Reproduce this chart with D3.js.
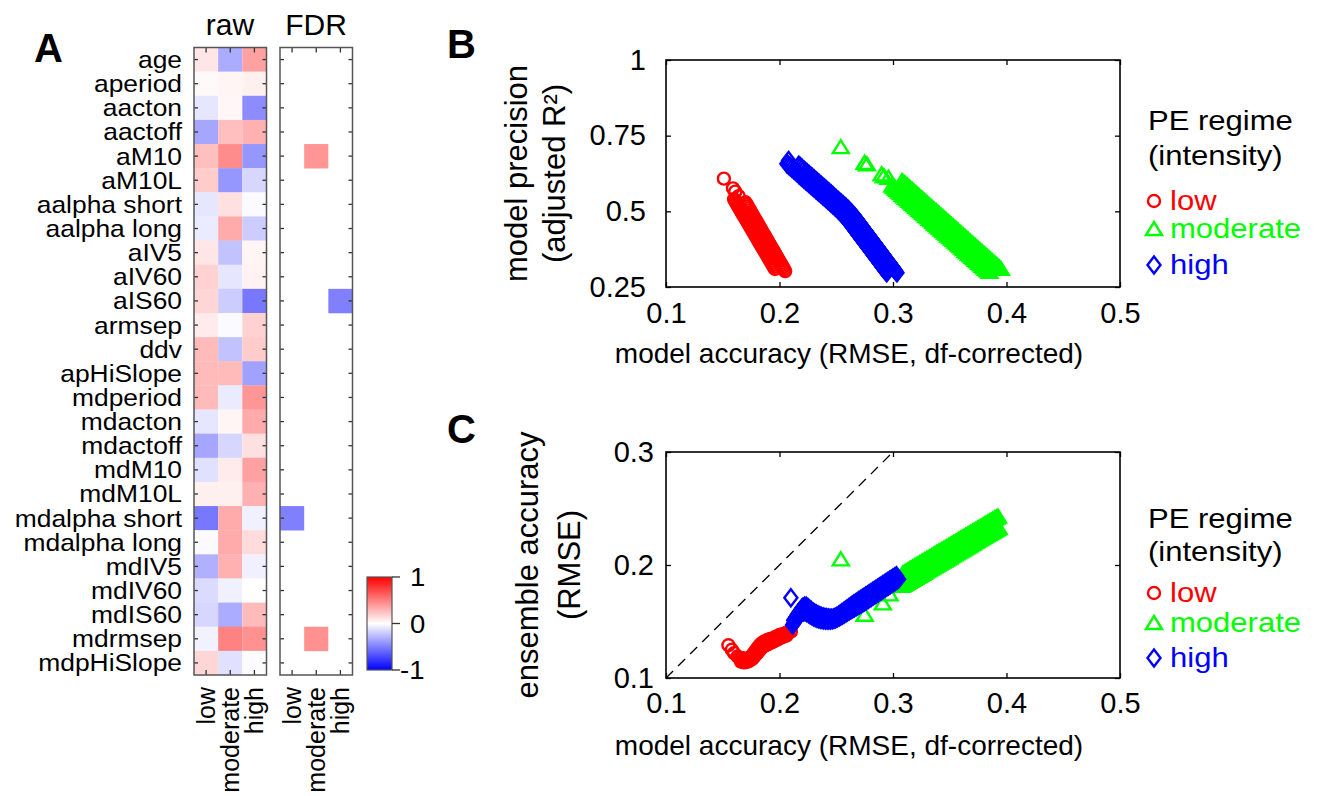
<!DOCTYPE html>
<html><head><meta charset="utf-8">
<script src="https://cdn.jsdelivr.net/npm/d3@7"></script>
<style>
body{margin:0;background:#fff}
svg{display:block}
text{font-family:"Liberation Sans",Arial,sans-serif;fill:#000}
</style>
</head><body>
<svg id="chart" width="1322" height="796"></svg>
<script>
// ---------------- data ----------------
const features = ["age","aperiod","aacton","aactoff","aM10","aM10L","aalpha short","aalpha long","aIV5","aIV60","aIS60","armsep","ddv","apHiSlope","mdperiod","mdacton","mdactoff","mdM10","mdM10L","mdalpha short","mdalpha long","mdIV5","mdIV60","mdIS60","mdrmsep","mdpHiSlope"];
const regimes = ["low","moderate","high"];
const rawLow      = [0.10,0.02,-0.10,-0.35,0.25,0.20,-0.10,-0.08,0.10,0.18,0.16,0.08,0.27,0.27,0.27,-0.10,-0.35,-0.12,0.06,-0.53,-0.02,-0.31,-0.14,-0.16,-0.05,0.16];
const rawModerate = [-0.33,0.04,0.03,0.25,0.45,-0.41,0.12,0.33,-0.24,-0.10,-0.20,-0.02,-0.24,0.27,-0.08,0.04,-0.16,0.08,0.06,0.33,0.33,0.31,-0.06,-0.33,0.49,-0.12];
const rawHigh     = [0.37,0.06,-0.45,0.31,-0.41,-0.16,-0.02,-0.20,0.04,0.05,-0.53,0.18,0.20,-0.37,0.41,0.33,0.12,0.37,0.31,-0.06,0.14,-0.06,0.00,0.27,0.43,-0.01];
const N = null;
const fdrLow      = [N,N,N,N,N,N,N,N,N,N,N,N,N,N,N,N,N,N,N,-0.50,N,N,N,N,N,N];
const fdrModerate = [N,N,N,N,0.41,N,N,N,N,N,N,N,N,N,N,N,N,N,N,N,N,N,N,N,0.43,N];
const fdrHigh     = [N,N,N,N,N,N,N,N,N,N,-0.50,N,N,N,N,N,N,N,N,N,N,N,N,N,N,N];
const colorbarTicks = [-1,0,1];

const xTicks = [0.1,0.2,0.3,0.4,0.5];
const yTicksB = [0.25,0.5,0.75,1];
const yTicksC = [0.1,0.2,0.3];
const legendLabels = ["low","moderate","high"];

// ---- panel B: [model accuracy RMSE, adjusted R2] ----
const B_low_out = [[0.151,0.608],[0.159,0.576],[0.161,0.565],[0.164,0.550]];
const B_low_1 = [[0.160,0.540],[0.161,0.5336],[0.162,0.5272],[0.163,0.5208],[0.164,0.5144],[0.165,0.508],[0.166,0.5016],[0.167,0.4952],[0.168,0.4888],[0.169,0.4824],[0.170,0.476],[0.171,0.4696],[0.172,0.4632],[0.173,0.4568],[0.174,0.4504],[0.175,0.444],[0.176,0.4376],[0.177,0.4312],[0.178,0.4248],[0.179,0.4184],[0.180,0.412],[0.181,0.4056],[0.182,0.3992],[0.183,0.3928],[0.184,0.3864],[0.185,0.380],[0.186,0.3736],[0.187,0.3672],[0.188,0.3608],[0.189,0.3544],[0.190,0.348],[0.191,0.3416],[0.192,0.3352],[0.193,0.3288],[0.194,0.3224],[0.195,0.316],[0.196,0.3096]];
const B_low_2 = [[0.170,0.530],[0.171,0.5235],[0.172,0.517],[0.173,0.5105],[0.174,0.504],[0.175,0.4975],[0.176,0.491],[0.177,0.4845],[0.178,0.478],[0.179,0.4715],[0.180,0.465],[0.181,0.4585],[0.182,0.452],[0.183,0.4455],[0.184,0.439],[0.185,0.4325],[0.186,0.426],[0.187,0.4195],[0.188,0.413],[0.189,0.4065],[0.190,0.400],[0.191,0.3935],[0.192,0.387],[0.193,0.3805],[0.194,0.374],[0.195,0.3675],[0.196,0.361],[0.197,0.3545],[0.198,0.348],[0.199,0.3415],[0.200,0.335],[0.201,0.3285],[0.202,0.322],[0.203,0.3155],[0.204,0.309],[0.205,0.3025]];

const B_mod_out = [[0.254,0.712],[0.275,0.660],[0.277,0.655],[0.290,0.622],[0.292,0.616],[0.296,0.611]];
const B_mod_1 = [[0.2995,0.585],[0.301,0.580],[0.3025,0.575],[0.304,0.570],[0.3055,0.565],[0.307,0.560],[0.3085,0.555],[0.310,0.550],[0.3115,0.545],[0.313,0.540],[0.3145,0.535],[0.316,0.530],[0.3175,0.525],[0.319,0.520],[0.3205,0.515],[0.322,0.510],[0.3235,0.505],[0.325,0.500],[0.3265,0.495],[0.328,0.490],[0.3295,0.485],[0.331,0.480],[0.3325,0.475],[0.334,0.470],[0.3355,0.465],[0.337,0.460],[0.3385,0.455],[0.340,0.450],[0.3415,0.445],[0.343,0.440],[0.3445,0.435],[0.346,0.430],[0.3475,0.425],[0.349,0.420],[0.3505,0.415],[0.352,0.410],[0.3535,0.405],[0.355,0.400],[0.3565,0.395],[0.358,0.390],[0.3595,0.385],[0.361,0.380],[0.3625,0.375],[0.364,0.370],[0.3655,0.365],[0.367,0.360],[0.3685,0.355],[0.370,0.350],[0.3715,0.345],[0.373,0.340],[0.3745,0.335],[0.376,0.330],[0.3775,0.325],[0.379,0.320],[0.3805,0.315],[0.382,0.310],[0.3835,0.305],[0.385,0.300]];
const B_mod_2 = [[0.308,0.600],[0.3095,0.595],[0.311,0.590],[0.3125,0.585],[0.314,0.580],[0.3155,0.575],[0.317,0.570],[0.3185,0.565],[0.320,0.560],[0.3215,0.555],[0.323,0.550],[0.3245,0.545],[0.326,0.540],[0.3275,0.535],[0.329,0.530],[0.3305,0.525],[0.332,0.520],[0.3335,0.515],[0.335,0.510],[0.3365,0.505],[0.338,0.500],[0.3395,0.495],[0.341,0.490],[0.3425,0.485],[0.344,0.480],[0.3455,0.475],[0.347,0.470],[0.3485,0.465],[0.350,0.460],[0.3515,0.455],[0.353,0.450],[0.3545,0.445],[0.356,0.440],[0.3575,0.435],[0.359,0.430],[0.3605,0.425],[0.362,0.420],[0.3635,0.415],[0.365,0.410],[0.3665,0.405],[0.368,0.400],[0.3695,0.395],[0.371,0.390],[0.3725,0.385],[0.374,0.380],[0.3755,0.375],[0.377,0.370],[0.3785,0.365],[0.380,0.360],[0.3815,0.355],[0.383,0.350],[0.3845,0.345],[0.386,0.340],[0.3875,0.335],[0.389,0.330],[0.3905,0.325],[0.392,0.320],[0.3935,0.315],[0.395,0.310]];

const B_high_out = [[0.208,0.668]];
const B_high_1 = [[0.2065,0.657],[0.208,0.652],[0.2095,0.647],[0.211,0.642],[0.2125,0.637],[0.214,0.632],[0.2155,0.627],[0.217,0.622],[0.2185,0.617],[0.220,0.612],[0.2215,0.607],[0.223,0.602],[0.2245,0.597],[0.226,0.592],[0.2275,0.587],[0.229,0.582],[0.2305,0.577],[0.232,0.572],[0.2335,0.567],[0.235,0.562],[0.2365,0.557],[0.238,0.552],[0.2395,0.547],[0.241,0.542],[0.2425,0.537],[0.244,0.532],[0.2455,0.527],[0.247,0.522],[0.2485,0.517],[0.2499,0.512],[0.2513,0.507],[0.2526,0.502],[0.2538,0.497],[0.255,0.492],[0.2562,0.487],
[0.2573,0.482],[0.2584,0.477],[0.2595,0.472],[0.2605,0.467],[0.2615,0.462],[0.2625,0.457],[0.2635,0.452],[0.2645,0.447],[0.2655,0.442],[0.2665,0.437],[0.2675,0.432],[0.2685,0.427],[0.2695,0.422],[0.2705,0.417],[0.2715,0.412],[0.2725,0.407],[0.2735,0.402],[0.2745,0.397],[0.2755,0.392],[0.2765,0.387],[0.2775,0.382],[0.2785,0.377],[0.2795,0.372],[0.2805,0.367],[0.2815,0.362],[0.2825,0.357],[0.2835,0.352],[0.2845,0.347],[0.2855,0.342],[0.2865,0.337],[0.2875,0.332],[0.2885,0.327],[0.2895,0.322],[0.2905,0.317],[0.2915,0.312],[0.2925,0.307],[0.2935,0.302],[0.2945,0.297]];
const B_high_2 = [[0.217,0.652],[0.2185,0.647],[0.220,0.642],[0.2215,0.637],[0.223,0.632],[0.2245,0.627],[0.226,0.622],[0.2275,0.617],[0.229,0.612],[0.2305,0.607],[0.232,0.602],[0.2335,0.597],[0.235,0.592],[0.2365,0.587],[0.238,0.582],[0.2395,0.577],[0.241,0.572],[0.2425,0.567],[0.244,0.562],[0.2455,0.557],[0.247,0.552],[0.2485,0.547],[0.250,0.542],[0.2515,0.537],[0.253,0.532],[0.2545,0.527],[0.256,0.522],[0.2575,0.517],[0.2589,0.512],[0.2603,0.507],[0.2616,0.502],[0.2628,0.497],[0.264,0.492],[0.2652,0.487],
[0.2663,0.482],[0.2674,0.477],[0.2685,0.472],[0.2695,0.467],[0.2705,0.462],[0.2715,0.457],[0.2725,0.452],[0.2735,0.447],[0.2745,0.442],[0.2755,0.437],[0.2765,0.432],[0.2775,0.427],[0.2785,0.422],[0.2795,0.417],[0.2805,0.412],[0.2815,0.407],[0.2825,0.402],[0.2835,0.397],[0.2845,0.392],[0.2855,0.387],[0.2865,0.382],[0.2875,0.377],[0.2885,0.372],[0.2895,0.367],[0.2905,0.362],[0.2915,0.357],[0.2925,0.352],[0.2935,0.347],[0.2945,0.342],[0.2955,0.337],[0.2965,0.332],[0.2975,0.327],[0.2985,0.322],[0.2995,0.317],[0.3005,0.312],[0.3015,0.307],[0.3025,0.302],[0.3035,0.297]];

// ---- panel C: [model accuracy RMSE, ensemble accuracy RMSE] ----
const C_low_out = [[0.155,0.129],[0.158,0.125],[0.160,0.122]];
const C_low_1 = [[0.163,0.119],[0.165,0.118],[0.167,0.1175],[0.169,0.117],[0.171,0.117],[0.173,0.1175],[0.175,0.119],[0.1765,0.121],[0.178,0.123],[0.1795,0.125],[0.181,0.127],[0.1825,0.129],[0.184,0.1305],[0.186,0.132],[0.188,0.133],[0.190,0.134],[0.192,0.1345],[0.194,0.135],[0.196,0.136],[0.198,0.137],[0.200,0.138],[0.202,0.1385],[0.204,0.139],[0.206,0.140],[0.208,0.1405],[0.210,0.141]];
const C_low_2 = [[0.166,0.1145],[0.168,0.114],[0.170,0.114],[0.172,0.1145],[0.174,0.1155],[0.176,0.117],[0.178,0.119],[0.180,0.1215],[0.182,0.124],[0.184,0.1265],[0.186,0.128],[0.188,0.129],[0.190,0.130],[0.192,0.131],[0.194,0.132],[0.196,0.133],[0.198,0.134],[0.200,0.135],[0.202,0.136],[0.204,0.137],[0.206,0.1375]];

const C_mod_out = [[0.254,0.205],[0.275,0.156],[0.291,0.166],[0.297,0.174]];
const C_mod_1 = [[0.3085,0.1925],[0.310,0.1934],[0.3115,0.1943],[0.313,0.1952],[0.3145,0.1961],[0.316,0.197],[0.3175,0.1979],[0.319,0.1988],[0.3205,0.1997],[0.322,0.2006],[0.3235,0.2015],[0.325,0.2024],[0.3265,0.2033],[0.328,0.2042],[0.3295,0.2051],[0.331,0.206],[0.3325,0.2069],[0.334,0.2078],[0.3355,0.2087],[0.337,0.2096],[0.3385,0.2105],[0.340,0.2114],[0.3415,0.2123],[0.343,0.2132],[0.3445,0.2141],[0.346,0.215],[0.3475,0.2159],[0.349,0.2168],[0.3505,0.2177],[0.352,0.2186],[0.3535,0.2195],[0.355,0.2204],[0.3565,0.2213],[0.358,0.2222],[0.3595,0.2231],[0.361,0.224],[0.3625,0.2249],[0.364,0.2258],[0.3655,0.2267],[0.367,0.2276],[0.3685,0.2285],[0.370,0.2294],[0.3715,0.2303],[0.373,0.2312],[0.3745,0.2321],[0.376,0.233],[0.3775,0.2339],[0.379,0.2348],[0.3805,0.2357],[0.382,0.2366],[0.3835,0.2375],[0.385,0.2384],[0.3865,0.2393],[0.388,0.2402],[0.3895,0.2411],[0.391,0.242],[0.3925,0.2429]];
const C_mod_2 = [[0.3075,0.1815],[0.309,0.1824],[0.3105,0.1833],[0.312,0.1842],[0.3135,0.1851],[0.315,0.186],[0.3165,0.1869],[0.318,0.1878],[0.3195,0.1887],[0.321,0.1896],[0.3225,0.1905],[0.324,0.1914],[0.3255,0.1923],[0.327,0.1932],[0.3285,0.1941],[0.330,0.195],[0.3315,0.1959],[0.333,0.1968],[0.3345,0.1977],[0.336,0.1986],[0.3375,0.1995],[0.339,0.2004],[0.3405,0.2013],[0.342,0.2022],[0.3435,0.2031],[0.345,0.204],[0.3465,0.2049],[0.348,0.2058],[0.3495,0.2067],[0.351,0.2076],[0.3525,0.2085],[0.354,0.2094],[0.3555,0.2103],[0.357,0.2112],[0.3585,0.2121],[0.360,0.213],[0.3615,0.2139],[0.363,0.2148],[0.3645,0.2157],[0.366,0.2166],[0.3675,0.2175],[0.369,0.2184],[0.3705,0.2193],[0.372,0.2202],[0.3735,0.2211],[0.375,0.222],[0.3765,0.2229],[0.378,0.2238],[0.3795,0.2247],[0.381,0.2256],[0.3825,0.2265],[0.384,0.2274],[0.3855,0.2283],[0.387,0.2292],[0.3885,0.2301],[0.390,0.231],[0.3915,0.2319],[0.393,0.2328]];

const C_high_out = [[0.210,0.171]];
const C_high_1 = [[0.2125,0.151],[0.2135,0.1525],[0.2145,0.154],[0.2155,0.1555],[0.2165,0.157],[0.2175,0.1585],[0.2185,0.160],[0.2195,0.1615],[0.2205,0.1625],[0.222,0.1635],[0.2235,0.1635],[0.225,0.1625],[0.2265,0.161],[0.228,0.1597],[0.2295,0.1585],[0.231,0.1575],[0.2325,0.1566],[0.234,0.1558],[0.2355,0.1551],[0.237,0.1545],[0.2385,0.154],[0.240,0.1536],[0.2415,0.1533],[0.243,0.1531],[0.2445,0.153],[0.246,0.153],[0.2475,0.1532],[0.249,0.1537],[0.2505,0.1545],[0.252,0.1555],[0.2535,0.1566],[0.255,0.1577],[0.2565,0.1588],[0.258,0.1599],[0.2595,0.161],[0.261,0.1621],[0.2625,0.1632],[0.264,0.1643],[0.2655,0.1654],[0.267,0.1665],[0.2685,0.1675],[0.270,0.1685],[0.2715,0.1695],[0.273,0.1705],[0.2745,0.1715],[0.276,0.1725],[0.2775,0.1735],[0.279,0.1745],[0.2805,0.1755],[0.282,0.1765],[0.2835,0.1775],[0.285,0.1785],[0.2865,0.1795],[0.288,0.1805],[0.2895,0.1815],[0.291,0.1825],[0.2925,0.1835],[0.294,0.1845],[0.2955,0.1855],[0.297,0.1865],[0.2985,0.1875],[0.300,0.1885],[0.3015,0.1895],[0.303,0.1905]];
const C_high_2 = [[0.2115,0.147],[0.2125,0.1485],[0.2135,0.150],[0.2145,0.1515],[0.2155,0.153],[0.2165,0.1545],[0.2175,0.156],[0.2185,0.157],[0.2195,0.158],[0.221,0.1585],[0.2225,0.1585],[0.224,0.158],[0.2255,0.157],[0.227,0.156],[0.2285,0.155],[0.230,0.1542],[0.2315,0.1535],[0.233,0.1529],[0.2345,0.1524],[0.236,0.152],[0.2375,0.1517],[0.239,0.1515],[0.2405,0.1514],[0.242,0.1513],[0.2435,0.1513],[0.245,0.1514],[0.2465,0.1516],[0.248,0.152],[0.2495,0.1525],[0.251,0.1532],[0.2525,0.154],[0.254,0.1549],[0.2555,0.1558],[0.257,0.1567],[0.2585,0.1576],[0.260,0.1585],[0.2615,0.1594],[0.263,0.1603],[0.2645,0.1612],[0.266,0.1621],[0.2675,0.163],[0.269,0.1639],[0.2705,0.1648],[0.272,0.1657],[0.2735,0.1666],[0.275,0.1675],[0.2765,0.1685],[0.278,0.1695],[0.2795,0.1705],[0.281,0.1715],[0.2825,0.1725],[0.284,0.1735],[0.2855,0.1745],[0.287,0.1755],[0.2885,0.1765],[0.290,0.1775],[0.2915,0.1785],[0.293,0.1795],[0.2945,0.1805],[0.296,0.1815],[0.2975,0.1825],[0.299,0.1835],[0.3005,0.1845],[0.302,0.1855],[0.3035,0.1865],[0.305,0.1875]];

const panelB_low = [...B_low_out, ...B_low_1, ...B_low_2];
const panelB_moderate = [...B_mod_out, ...B_mod_1, ...B_mod_2];
const panelB_high = [...B_high_out, ...B_high_1, ...B_high_2];
const panelC_low = [...C_low_out, ...C_low_1, ...C_low_2];
const panelC_moderate = [...C_mod_out, ...C_mod_1, ...C_mod_2];
const panelC_high = [...C_high_out, ...C_high_1, ...C_high_2];

// ---------------- drawing ----------------
const svg = d3.select("#chart");
const FONT = '"Liberation Sans", Arial, sans-serif';

function htext(g, x, y, str, size, sx, anchor, fill, weight){
  const t = g.append("text").attr("transform", `translate(${x},${y}) scale(${sx},1)`)
    .attr("font-size", size).attr("text-anchor", anchor||"start").text(str);
  if (fill) t.style("fill", fill);
  if (weight) t.attr("font-weight", weight);
  return t;
}

// ---- Panel A heatmap ----
const color = d3.scaleLinear().domain([-1,0,1]).range(["#0000ff","#ffffff","#ff0000"]);
const yA = d3.scaleBand().domain(features).range([47.5,675]);
const rawCols = {low: rawLow, moderate: rawModerate, high: rawHigh};
const fdrCols = {low: fdrLow, moderate: fdrModerate, high: fdrHigh};

function heat(x0, x1, cols){
  const xA = d3.scaleBand().domain(regimes).range([x0,x1]);
  const g = svg.append("g");
  regimes.forEach(r => {
    cols[r].forEach((v,i) => {
      if (v === null) return;
      g.append("rect").attr("x", xA(r)).attr("y", yA(features[i]))
        .attr("width", xA.bandwidth()).attr("height", yA.bandwidth()+0.3)
        .attr("fill", color(v));
    });
  });
  const ax = [
    {a: d3.axisLeft(yA).tickSize(-4), t: `translate(${x0},0)`},
    {a: d3.axisRight(yA).tickSize(-4), t: `translate(${x1},0)`},
    {a: d3.axisTop(xA).tickSize(-5), t: `translate(0,${yA.range()[0]})`},
    {a: d3.axisBottom(xA).tickSize(-5), t: `translate(0,${yA.range()[1]})`}
  ];
  ax.forEach(o => {
    const ga = g.append("g").attr("transform", o.t).call(o.a.tickFormat(""));
    ga.select(".domain").remove();
    ga.selectAll("line").attr("stroke","#333").attr("stroke-width",1.3);
  });
  g.append("rect").attr("x", x0).attr("y", yA.range()[0]).attr("width", x1-x0)
    .attr("height", yA.range()[1]-yA.range()[0]).attr("fill","none")
    .attr("stroke","#555").attr("stroke-width",1.5);
  regimes.forEach(r => {
    svg.append("text").attr("transform", `translate(${xA(r)+xA.bandwidth()/2},687) rotate(-90)`)
      .attr("text-anchor","end").attr("dy","0.36em").attr("font-size",25).text(r);
  });
  return xA;
}
heat(194, 266.5, rawCols);
heat(280, 352.5, fdrCols);

features.forEach(f => {
  htext(svg, 182, yA(f)+yA.bandwidth()/2 + 8.5, f, 24, 1.1, "end");
});
htext(svg, 230, 35, "raw", 30, 1.0, "middle");
htext(svg, 316, 35, "FDR", 30, 1.0, "middle");
htext(svg, 34, 62, "A", 40, 1.0, "start", null, "bold");

// colorbar
const defs = svg.append("defs");
const grad = defs.append("linearGradient").attr("id","cbar").attr("x1",0).attr("y1",0).attr("x2",0).attr("y2",1);
[[0,1],[0.5,0],[1,-1]].forEach(([o,v]) => grad.append("stop").attr("offset", o).attr("stop-color", color(v)));
const yCb = d3.scaleLinear().domain([-1,1]).range([670,577]);
svg.append("rect").attr("x",367).attr("y",577).attr("width",25).attr("height",93)
  .attr("fill","url(#cbar)").attr("stroke","#555").attr("stroke-width",1.2);
colorbarTicks.forEach(v => {
  svg.append("line").attr("x1",392).attr("x2",400).attr("y1",yCb(v)).attr("y2",yCb(v))
    .attr("stroke","#333").attr("stroke-width",1.3);
  htext(svg, v < 0 ? 400 : 410, yCb(v)+9, String(v), 25, 1.1, "start");
});

// ---- scatter panels ----
const markerPaths = {
  low: "M6,0A6,6 0 1,1 -6,0A6,6 0 1,1 6,0Z",
  moderate: "M0,-7L8,6L-8,6Z",
  high: "M0,-8.5L6.5,0L0,8.5L-6.5,0Z"
};
const markerColors = {low: "#ff0000", moderate: "#00ff00", high: "#0000ff"};

function scatterPanel(cfg){
  const x = d3.scaleLinear().domain([0.1,0.5]).range([666,1120]);
  const y = d3.scaleLinear().domain(cfg.ydom).range([cfg.y1, cfg.y0]);
  const g = svg.append("g");
  if (cfg.diag){
    g.append("line").attr("x1", x(0.1)).attr("y1", y(0.1)).attr("x2", x(0.3)).attr("y2", y(0.3))
      .attr("stroke","#000").attr("stroke-width",1.3).attr("stroke-dasharray","10,7");
  }
  const series = [["low", cfg.low],["moderate", cfg.moderate],["high", cfg.high]];
  series.forEach(([k, pts]) => {
    g.append("g").selectAll("path").data(pts).join("path")
      .attr("d", markerPaths[k])
      .attr("transform", d => `translate(${x(d[0])},${y(d[1])})`)
      .attr("fill","none").attr("stroke", markerColors[k]).attr("stroke-width",2.4);
  });
  const axB = g.append("g").attr("transform",`translate(0,${cfg.y1})`)
    .call(d3.axisBottom(x).tickValues(xTicks).tickSize(-5).tickPadding(cfg.xpad).tickFormat(d3.format(".1f")));
  const axT = g.append("g").attr("transform",`translate(0,${cfg.y0})`)
    .call(d3.axisTop(x).tickValues(xTicks).tickSize(-5).tickFormat(""));
  const axL = g.append("g").attr("transform",`translate(666,0)`)
    .call(d3.axisLeft(y).tickValues(cfg.yticks).tickSize(-5).tickPadding(cfg.ypad).tickFormat(d => String(d)));
  const axR = g.append("g").attr("transform",`translate(1120,0)`)
    .call(d3.axisRight(y).tickValues(cfg.yticks).tickSize(-5).tickFormat(""));
  [axB, axT, axL, axR].forEach(a => {
    a.select(".domain").remove();
    a.selectAll("line").attr("stroke","#000").attr("stroke-width",1.3);
    a.selectAll("text").attr("font-size",29).attr("font-family",FONT).style("fill","#000");
  });
  g.append("rect").attr("x",666).attr("y",cfg.y0).attr("width",454).attr("height",cfg.y1-cfg.y0)
    .attr("fill","none").attr("stroke","#000").attr("stroke-width",1.6);
  htext(g, 849, cfg.xlabY, "model accuracy (RMSE, df-corrected)", 28, 1.0, "middle");
  const cy = (cfg.y0+cfg.y1)/2;
  cfg.ylab.forEach((s,i) => {
    g.append("text").attr("transform",`translate(${cfg.ylabX[i]},${cy}) rotate(-90)`)
      .attr("text-anchor","middle").attr("font-size",31).text(s);
  });
  const L = cfg.legend;
  htext(g, 1148, L[0], "PE regime", 27, 1.15, "start");
  htext(g, 1148, L[1], "(intensity)", 27, 1.15, "start");
  legendLabels.forEach((lab,i) => {
    const by = L[2+i];
    g.append("path").attr("d", markerPaths[lab]).attr("transform",`translate(1154,${by-9})`)
      .attr("fill","none").attr("stroke", markerColors[lab]).attr("stroke-width",2.4);
    htext(g, 1170, by, lab, 27, 1.15, "start", markerColors[lab]);
  });
  htext(g, 447, cfg.letterY, cfg.letter, 40, 1.0, "start", null, "bold");
}

scatterPanel({
  ydom:[0.25,1], y0:60, y1:287, yticks:yTicksB, xpad:15, ypad:20,
  low: panelB_low, moderate: panelB_moderate, high: panelB_high,
  xlabY:363, ylab:["model precision","(adjusted R²)"], ylabX:[527,565],
  legend:[130,165,210,238,274], letter:"B", letterY:58
});
scatterPanel({
  ydom:[0.1,0.3], y0:452, y1:678, yticks:yTicksC, xpad:14, ypad:12, diag:true,
  low: panelC_low, moderate: panelC_moderate, high: panelC_high,
  xlabY:755, ylab:["ensemble accuracy","(RMSE)"], ylabX:[538,580],
  legend:[528,561,602,632,667], letter:"C", letterY:443
});
</script>
</body></html>
